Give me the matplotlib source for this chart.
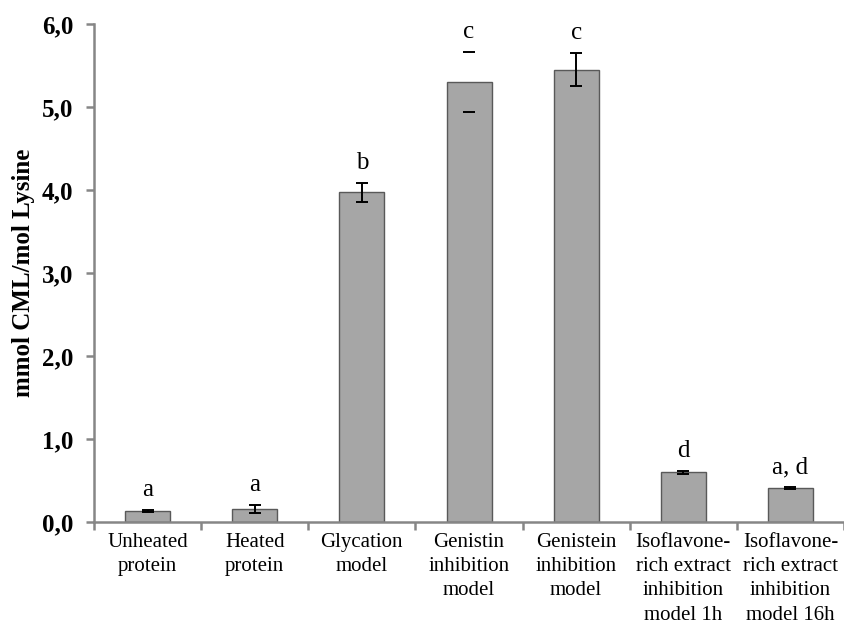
import matplotlib
matplotlib.use("Agg")
import matplotlib.pyplot as plt
from matplotlib.ticker import FuncFormatter, FixedLocator
import numpy as np

plt.rcParams['font.family'] = ['Liberation Serif', 'DejaVu Serif']

# Daten
categories = ["Unheated\nprotein", "Heated\nprotein", "Glycation\nmodel",
              "Genistin\ninhibition\nmodel", "Genistein\ninhibition\nmodel",
              "Isoflavone-\nrich extract\ninhibition\nmodel 1h",
              "Isoflavone-\nrich extract\ninhibition\nmodel 16h"]
cml_values = [0.13, 0.16, 3.97, 5.30, 5.45, 0.60, 0.41]
cml_errors = [0.01, 0.05, 0.11, 0.36, 0.20, 0.02, 0.01]
sig_letters = ["a", "a", "b", "c", "c", "d", "a, d"]

fig = plt.figure(figsize=(8.44, 6.26), dpi=100)
ax = fig.add_axes([94 / 844, 1 - 522 / 626, 750 / 844, 498 / 626])

x = np.arange(len(categories))
ax.bar(x, cml_values, width=0.42, color="#a6a6a6", edgecolor="#595959",
       linewidth=1.0, zorder=2)

# Fehlerbalken (beim Genistin-Balken sind nur die Kappen zu sehen)
for i in range(len(x)):
    ax.errorbar(x[i], cml_values[i], yerr=cml_errors[i], fmt="none",
                ecolor="black", elinewidth=0 if i == 3 else 1.4,
                capsize=4.5, capthick=1.4, zorder=3)

for i in range(len(x)):
    ax.annotate(sig_letters[i], (x[i], cml_values[i] + cml_errors[i]),
                xytext=(0, 10), textcoords="offset points",
                ha="center", va="baseline", fontsize=18)

ax.set_xlim(-0.5, len(categories) - 0.5)
ax.set_ylim(0, 6)
ax.set_yticks(np.arange(0, 6.1, 1.0))
ax.yaxis.set_major_formatter(FuncFormatter(lambda v, p: f"{v:.1f}".replace(".", ",")))

ax.set_xticks(x)
ax.set_xticklabels(categories, fontsize=15, linespacing=1.37)
ax.xaxis.set_minor_locator(FixedLocator(np.arange(-0.5, len(categories), 1.0)))
ax.tick_params(axis="x", which="major", length=0, pad=8)
ax.tick_params(axis="x", which="minor", length=6, width=1.8, color="#868686",
               direction="out")
ax.tick_params(axis="y", length=6, width=1.8, color="#868686", pad=9,
               labelsize=18)
for lab in ax.get_yticklabels():
    lab.set_fontweight("bold")

for side in ["top", "right"]:
    ax.spines[side].set_visible(False)
for side in ["left", "bottom"]:
    ax.spines[side].set_color("#868686")
    ax.spines[side].set_linewidth(1.8)

ax.set_ylabel("mmol CML/mol Lysine", fontsize=18, fontweight="bold", labelpad=5)

fig.savefig("out.png", dpi=100)
